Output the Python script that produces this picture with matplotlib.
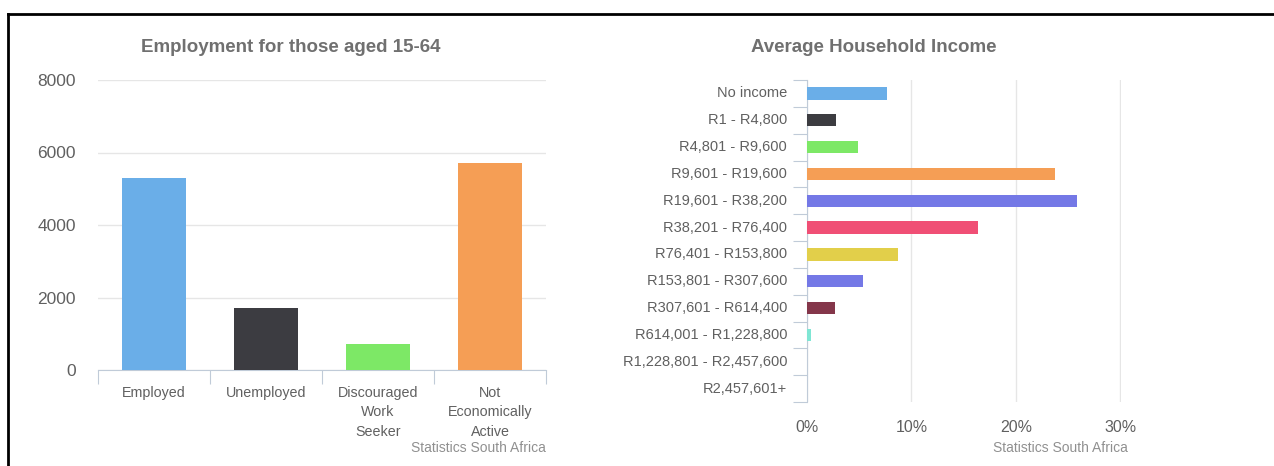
import matplotlib
matplotlib.use("Agg")
import matplotlib.pyplot as plt
from matplotlib.ticker import FixedLocator, NullFormatter

plt.rcParams['font.family'] = ['Liberation Sans', 'DejaVu Sans']

# employment data (thousands)
emp_labels = ["Employed", "Unemployed", "Discouraged\nWork\nSeeker", "Not\nEconomically\nActive"]
emp_values = [5300, 1700, 720, 5710]
emp_colors = ["#6aaee8", "#3c3c41", "#7de866", "#f59e55"]

# household income distribution (%)
inc_labels = ["No income", "R1 - R4,800", "R4,801 - R9,600", "R9,601 - R19,600",
              "R19,601 - R38,200", "R38,201 - R76,400", "R76,401 - R153,800",
              "R153,801 - R307,600", "R307,601 - R614,400", "R614,001 - R1,228,800",
              "R1,228,801 - R2,457,600", "R2,457,601+"]
inc_values = [7.7, 2.8, 4.9, 23.7, 25.8, 16.4, 8.7, 5.4, 2.7, 0.4, 0.0, 0.0]
inc_colors = ["#6aaee8", "#3c3c41", "#7de866", "#f59e55", "#7478e6", "#f04f75",
              "#e2cf4a", "#7478e6", "#84364a", "#7fe6d4", "#f45b5b", "#91e8e1"]

W, H = 1274, 466
fig = plt.figure(figsize=(W / 100, H / 100), dpi=100)

def px(x0, y0, x1, y1):
    # pixel box -> figure fraction
    return [x0 / W, 1 - y1 / H, (x1 - x0) / W, (y1 - y0) / H]

text_grey = "#606060"
grid_col = "#e6e6e6"
axis_col = "#c0cbd8"

# frame of the screenshot
fig.add_artist(plt.Line2D([8 / W, 1], [1 - 14 / H, 1 - 14 / H], color="black", lw=2))
fig.add_artist(plt.Line2D([8 / W, 8 / W], [0, 1 - 14 / H], color="black", lw=2))

# ---- left chart
ax1 = fig.add_axes(px(98, 80, 546, 370))
xs = range(len(emp_values))
ax1.bar(xs, emp_values, width=0.57, color=emp_colors, zorder=3)
ax1.set_xlim(-0.5, len(emp_values) - 0.5)
ax1.set_ylim(0, 8000)
ax1.set_yticks([0, 2000, 4000, 6000, 8000])
ax1.yaxis.grid(True, color=grid_col, lw=1)
ax1.set_axisbelow(True)
for s in ["top", "right", "left"]:
    ax1.spines[s].set_visible(False)
ax1.spines["bottom"].set_color(axis_col)
ax1.tick_params(axis="y", length=0, labelsize=12.5, labelcolor=text_grey, pad=16)
ax1.xaxis.set_major_locator(FixedLocator([-0.5, 0.5, 1.5, 2.5, 3.5]))
ax1.xaxis.set_major_formatter(NullFormatter())
ax1.tick_params(axis="x", which="major", length=10, color=axis_col, direction="out")
for i, lab in enumerate(emp_labels):
    ax1.text(i, -0.055, lab, transform=ax1.get_xaxis_transform(), ha="center", va="top",
             fontsize=10.3, color=text_grey, linespacing=1.48)
fig.text(291 / W, 1 - 47 / H, "Employment for those aged 15-64", ha="center", va="center",
         fontsize=13.5, fontweight="bold", color="#707070")
fig.text(546 / W, 1 - 448 / H, "Statistics South Africa", ha="right", va="center",
         fontsize=10, color="#909090")

# ---- right chart
ax2 = fig.add_axes(px(807, 80, 1121, 402))
ys = range(len(inc_values))
ax2.barh(ys, inc_values, height=0.46, color=inc_colors, zorder=3)
ax2.set_ylim(len(inc_values) - 0.5, -0.5)
ax2.set_xlim(0, 30.05)
ax2.set_xticks([0, 10, 20, 30])
ax2.set_xticklabels([f"{v}%" for v in [0, 10, 20, 30]])
ax2.xaxis.grid(True, color=grid_col, lw=1)
ax2.set_axisbelow(True)
for s in ["top", "right", "bottom"]:
    ax2.spines[s].set_visible(False)
ax2.spines["left"].set_color(axis_col)
ax2.tick_params(axis="x", length=0, labelsize=11.5, labelcolor=text_grey, pad=13)
ax2.yaxis.set_major_locator(FixedLocator([i - 0.5 for i in range(len(inc_values) + 1)]))
ax2.yaxis.set_major_formatter(NullFormatter())
ax2.tick_params(axis="y", which="major", length=10, color=axis_col, direction="out")
for i, lab in enumerate(inc_labels):
    ax2.text(-0.063, i, lab, transform=ax2.get_yaxis_transform(), ha="right", va="center",
             fontsize=10.5, color=text_grey)
fig.text(874 / W, 1 - 47 / H, "Average Household Income", ha="center", va="center",
         fontsize=13.5, fontweight="bold", color="#707070")
fig.text(1128 / W, 1 - 448 / H, "Statistics South Africa", ha="right", va="center",
         fontsize=10, color="#909090")

fig.savefig("out.png", dpi=100, facecolor="white")
